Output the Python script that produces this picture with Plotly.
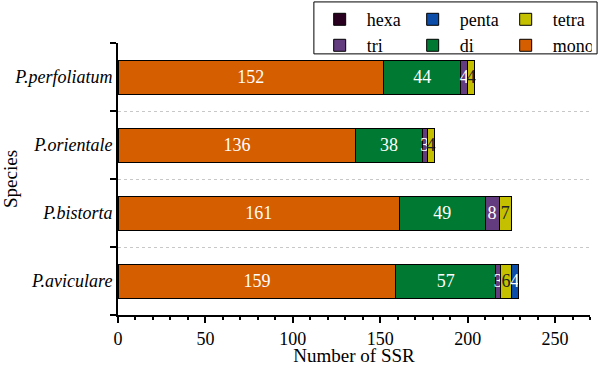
import plotly.graph_objects as go

species = ["P.aviculare", "P.bistorta", "P.orientale", "P.perfoliatum"]
mono = [159, 161, 136, 152]
di = [57, 49, 38, 44]
tri = [3, 8, 3, 4]
tetra = [6, 7, 4, 4]
penta = [4, 0, 0, 0]
hexa = [0, 0, 0, 0]

series = [
    ("mono", mono, "#D55E00", "white", "legend2"),
    ("di", di, "#007A32", "white", "legend2"),
    ("tri", tri, "#633C80", "white", "legend2"),
    ("tetra", tetra, "#C4C000", "#222222", "legend"),
    ("penta", penta, "#0B4DA8", "white", "legend"),
    ("hexa", hexa, "#2A0020", "white", "legend"),
]

FONT = "Times New Roman, Liberation Serif, Times, DejaVu Serif, serif"
fig = go.Figure()
for name, vals, color, tcol, lg in series:
    fig.add_trace(go.Bar(
        y=species, x=vals, name=name, orientation="h",
        marker=dict(color=color, line=dict(color="black", width=1)),
        width=0.5,
        text=[str(v) if v > 0 else "" for v in vals],
        textposition="inside", insidetextanchor="middle",
        constraintext="none",
        textfont=dict(family=FONT, size=18, color=tcol),
        legend=lg,
    ))

leg_common = dict(orientation="h", xref="container", yref="container",
                  xanchor="left", yanchor="top", traceorder="reversed",
                  entrywidth=34, itemwidth=44, bgcolor="rgba(0,0,0,0)",
                  font=dict(family=FONT, size=18))

fig.update_layout(
    barmode="stack",
    width=599, height=366,
    margin=dict(l=118, r=9, t=43, b=51, autoexpand=False),
    paper_bgcolor="white", plot_bgcolor="white",
    font=dict(family=FONT, size=18, color="black"),
    legend=dict(x=0.522, y=0.997, **leg_common),
    legend2=dict(x=0.522, y=0.926, **leg_common),
    xaxis=dict(range=[0, 270], dtick=50, showline=True, linecolor="black", linewidth=2,
               ticks="outside", ticklen=6, tickwidth=2, tickcolor="black",
               minor=dict(dtick=10, ticks="outside", ticklen=3, tickwidth=1.5, tickcolor="black"),
               showgrid=False, zeroline=False,
               title=dict(text="Number of SSR", font=dict(family=FONT, size=19), standoff=0),
               tickfont=dict(family=FONT, size=18)),
    yaxis=dict(showline=True, linecolor="black", linewidth=2,
               ticks="outside", ticklen=6, tickwidth=2, tickcolor="black",
               tickson="boundaries", showgrid=True, gridcolor="#c8c8c8", griddash="dot",
               gridwidth=1, range=[-0.5, 3.5],
               title=dict(text="Species", font=dict(family=FONT, size=19), standoff=4),
               tickfont=dict(family=FONT, size=18, style="italic")),
    shapes=[dict(type="rect", xref="paper", yref="paper", x0=0.415, x1=1.015,
                 y0=0.96, y1=1.151, line=dict(color="black", width=1))],
)

fig.write_html("out.html", config={"displayModeBar": False},
               post_script="document.body.style.margin='0px';document.body.style.padding='0px';")
